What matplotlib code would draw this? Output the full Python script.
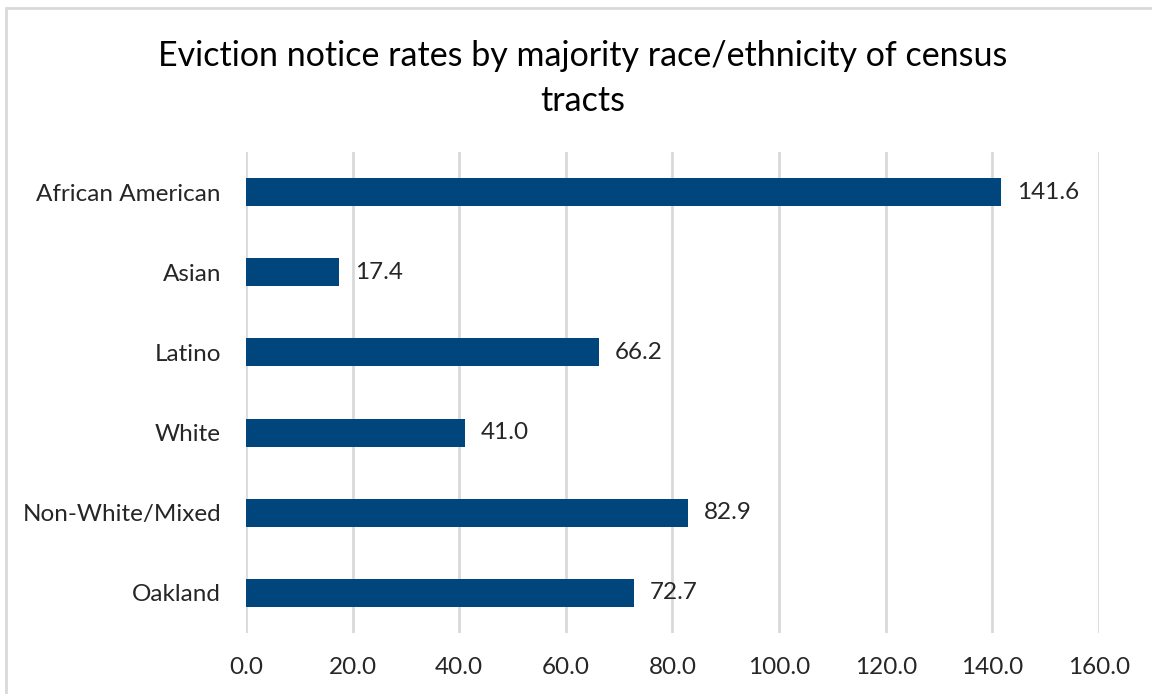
import matplotlib.pyplot as plt
from matplotlib.patches import Rectangle

categories = ["African American", "Asian", "Latino", "White", "Non-White/Mixed", "Oakland"]
rates = [141.6, 17.4, 66.2, 41.0, 82.9, 72.7]
xticks = [0, 20, 40, 60, 80, 100, 120, 140, 160]

plt.rcParams["font.family"] = ["Lato", "DejaVu Sans"]

fig = plt.figure(figsize=(11.52, 6.94), dpi=100)
ax = fig.add_axes([0.2135, 0.088, 0.7405, 0.693])

bar_color = "#00457c"
ax.barh(range(len(categories)), rates, height=0.35, color=bar_color, zorder=3)
for i, v in enumerate(rates):
    ax.text(v + 3, i, f"{v:.1f}", va="center", ha="left", fontsize=17.5, color="#262626")

ax.set_xlim(0, 160)
ax.set_ylim(len(categories) - 0.5, -0.5)
ax.set_yticks(range(len(categories)))
ax.set_yticklabels(categories, fontsize=17.5, color="#262626")
ax.set_xticks(xticks)
ax.set_xticklabels([f"{t:.1f}" for t in xticks], fontsize=17.5, color="#262626")
ax.tick_params(length=0)
ax.tick_params(axis="x", pad=17)
ax.tick_params(axis="y", pad=18)
ax.grid(axis="x", color="#d9d9d9", linewidth=2, zorder=0)
for s in ax.spines.values():
    s.set_visible(False)

fig.text(0.506, 0.919, "Eviction notice rates by majority race/ethnicity of census",
         ha="center", va="center", fontsize=24.5, color="#000000")
fig.text(0.506, 0.855, "tracts", ha="center", va="center", fontsize=24.5, color="#000000")

fig.patches.append(Rectangle((6 / 1152, -0.1), 1.2, 1.1 - 8 / 694, transform=fig.transFigure,
                             fill=False, edgecolor="#d9d9d9", linewidth=2))

fig.savefig("out.png", dpi=100)
